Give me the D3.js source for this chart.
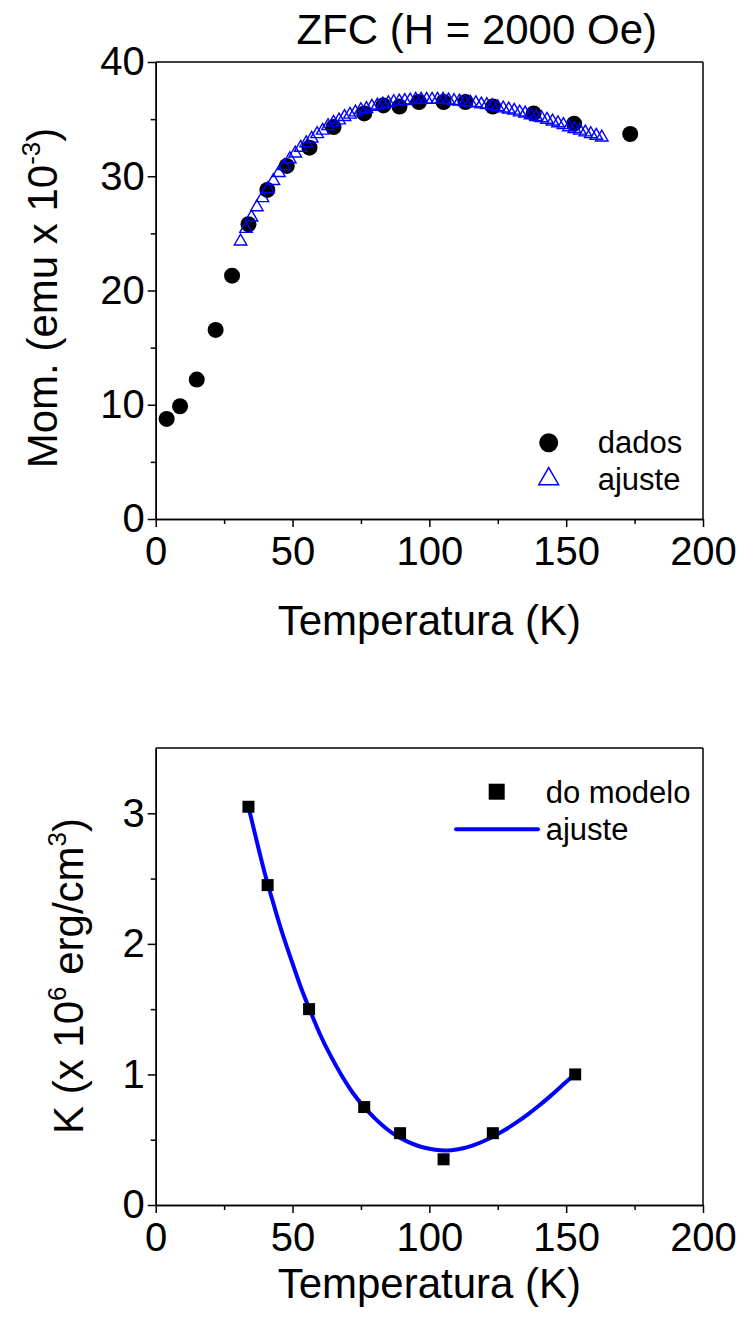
<!DOCTYPE html>
<html>
<head>
<meta charset="utf-8">
<script src="https://cdn.jsdelivr.net/npm/d3@7"></script>
<style>
  html, body { margin: 0; padding: 0; background: #fff; }
  svg { display: block; }
  text { font-family: Arial, "Liberation Sans", sans-serif; fill: #000; }
</style>
</head>
<body>
<svg id="chart" width="743" height="1329"></svg>
<script>
// ---------- DATA ----------
// Top plot: ZFC magnetization
const dadosT = [4.0, 8.9, 15.0, 21.9, 27.9, 33.9, 40.8, 47.9, 56.2, 65.0, 76.2, 83.2, 89.1, 96.2, 105.2, 113.2, 123.2, 138.1, 152.9, 173.4];
const dadosM = [8.76, 9.87, 12.2, 16.55, 21.3, 25.8, 28.8, 30.9, 32.5, 34.3, 35.5, 36.2, 36.1, 36.5, 36.5, 36.5, 36.1, 35.5, 34.6, 33.7];

const ajusteT = [31, 33, 35, 37, 39, 41, 43, 45, 47, 49, 51, 53, 55, 57, 59, 61, 63, 65, 67, 69,
                 71, 73, 75, 77, 79, 81, 83, 85, 87, 89, 91, 93, 95, 97, 99, 101, 103, 105, 107, 109,
                 111, 113, 115, 117, 119, 121, 123, 125, 127, 129, 131, 133, 135, 137, 139, 141, 143, 145, 147, 149,
                 151, 153, 155, 157, 159, 161, 163];
const ajusteM = [24.3, 25.4, 26.4, 27.3, 28.1, 28.9, 29.6, 30.3, 30.9, 31.5, 32.0, 32.5, 32.9, 33.3, 33.7, 34.0, 34.4, 34.7, 34.9, 35.2,
                 35.4, 35.6, 35.8, 35.9, 36.1, 36.2, 36.3, 36.4, 36.5, 36.55, 36.6, 36.65, 36.7, 36.7, 36.7, 36.7, 36.7, 36.7, 36.65, 36.6,
                 36.55, 36.5, 36.45, 36.4, 36.3, 36.25, 36.15, 36.05, 35.95, 35.85, 35.75, 35.6, 35.5, 35.35, 35.2, 35.1, 34.95, 34.8, 34.65, 34.5,
                 34.3, 34.15, 34.0, 33.85, 33.7, 33.55, 33.4];

// Bottom plot: anisotropy constant
const modeloT = [33.9, 40.9, 56.05, 76.2, 89.3, 105.2, 123.2, 153.3];
const modeloK = [3.05, 2.45, 1.50, 0.75, 0.55, 0.35, 0.55, 1.00];

const fitT = [34, 37, 40, 43, 46, 50, 53, 56, 60, 64, 68, 72, 76, 80, 84, 88, 92, 96, 100, 104,
              108, 112, 116, 120, 124, 128, 132, 136, 140, 144, 148, 153];
const fitK = [3.04, 2.78, 2.53, 2.31, 2.10, 1.85, 1.67, 1.51, 1.31, 1.14, 0.99, 0.86, 0.755, 0.665, 0.59, 0.53, 0.485, 0.452, 0.431, 0.419,
              0.42, 0.433, 0.457, 0.49, 0.532, 0.58, 0.634, 0.694, 0.76, 0.83, 0.905, 1.00];

// Ticks
const xTicks = [0, 50, 100, 150, 200];
const xMinor = [25, 75, 125, 175];
const topYTicks = [0, 10, 20, 30, 40];
const topYMinor = [5, 15, 25, 35];
const botYTicks = [0, 1, 2, 3];
const botYMinor = [0.5, 1.5, 2.5];

// Texts
const titleText = "ZFC (H = 2000 Oe)";
const xTitle = "Temperatura (K)";

// ---------- DRAW ----------
const svg = d3.select("#chart");
const BLUE = "#0000ff";
const FONT = 'Arial, "Liberation Sans", sans-serif';
const leftX = 155.7, rightX = 703;

function drawPanel(cfg) {
  const x = d3.scaleLinear().domain([0, 200]).range([leftX, rightX]);
  const y = d3.scaleLinear().domain(cfg.yDomain).range([cfg.bottom, cfg.top]);
  const g = svg.append("g");
  const fmt = d3.format("~g");

  g.append("line").attr("x1", leftX).attr("x2", rightX).attr("y1", cfg.top).attr("y2", cfg.top)
    .attr("stroke", "#000").attr("stroke-width", 1.5);
  g.append("line").attr("x1", rightX).attr("x2", rightX).attr("y1", cfg.top).attr("y2", cfg.bottom)
    .attr("stroke", "#000").attr("stroke-width", 1.5);

  g.append("g").attr("transform", `translate(0,${cfg.bottom})`)
    .call(d3.axisBottom(x).tickValues(xTicks).tickFormat(fmt).tickSize(8).tickPadding(10).tickSizeOuter(0));
  g.append("g").attr("transform", `translate(0,${cfg.bottom})`)
    .call(d3.axisBottom(x).tickValues(xMinor).tickSize(5).tickFormat("").tickSizeOuter(0));
  g.append("g").attr("transform", `translate(${leftX},0)`)
    .call(d3.axisLeft(y).tickValues(cfg.yTicks).tickFormat(fmt).tickSize(8).tickPadding(3).tickSizeOuter(0));
  g.append("g").attr("transform", `translate(${leftX},0)`)
    .call(d3.axisLeft(y).tickValues(cfg.yMinor).tickSize(5).tickFormat("").tickSizeOuter(0));

  g.selectAll(".domain").attr("stroke", "#000").attr("stroke-width", 1.5);
  g.selectAll(".tick line").attr("stroke", "#000").attr("stroke-width", 1.5);
  g.selectAll(".tick text").attr("font-size", 40).attr("font-family", FONT).attr("fill", "#000");

  g.append("text").attr("x", (leftX + rightX) / 2).attr("y", cfg.xTitleY)
    .attr("text-anchor", "middle").attr("font-size", 42).text(xTitle);

  return { x, y, g };
}

// ----- Top panel -----
const topP = drawPanel({ top: 62, bottom: 519, yDomain: [0, 40], yTicks: topYTicks, yMinor: topYMinor, xTitleY: 635 });

svg.append("text").attr("x", 476.7).attr("y", 44).attr("text-anchor", "middle")
  .attr("font-size", 42).text(titleText);

{
  const t = svg.append("text").attr("transform", "translate(57,298) rotate(-90)")
    .attr("text-anchor", "middle").attr("font-size", 42);
  t.append("tspan").text("Mom. (emu x 10");
  t.append("tspan").attr("font-size", 26).attr("dy", -17).text("-3");
  t.append("tspan").attr("dy", 17).text(")");
}

const dados = dadosT.map((t, i) => ({ t, m: dadosM[i] }));
topP.g.append("g").selectAll("circle").data(dados).join("circle")
  .attr("cx", d => topP.x(d.t)).attr("cy", d => topP.y(d.m)).attr("r", 8).attr("fill", "#000");

const tri = d3.symbol().type(d3.symbolTriangle).size(68);
const ajuste = ajusteT.map((t, i) => ({ t, m: ajusteM[i] }));
topP.g.append("g").selectAll("path").data(ajuste).join("path")
  .attr("d", tri)
  .attr("transform", d => `translate(${topP.x(d.t)},${topP.y(d.m)})`)
  .attr("fill", "none").attr("stroke", BLUE).attr("stroke-width", 1.4);

svg.append("circle").attr("cx", 548.7).attr("cy", 442.7).attr("r", 9.5).attr("fill", "#000");
svg.append("text").attr("x", 597.7).attr("y", 453).attr("font-size", 31).text("dados");
svg.append("path").attr("d", d3.symbol().type(d3.symbolTriangle).size(170))
  .attr("transform", "translate(548.7,479)").attr("fill", "none").attr("stroke", BLUE).attr("stroke-width", 1.5);
svg.append("text").attr("x", 597.7).attr("y", 490).attr("font-size", 31).text("ajuste");

// ----- Bottom panel -----
const botP = drawPanel({ top: 748, bottom: 1205, yDomain: [0, 3.5], yTicks: botYTicks, yMinor: botYMinor, xTitleY: 1298 });

{
  const t = svg.append("text").attr("transform", "translate(83,976) rotate(-90)")
    .attr("text-anchor", "middle").attr("font-size", 42);
  t.append("tspan").text("K (x 10");
  t.append("tspan").attr("font-size", 26).attr("dy", -17).text("6");
  t.append("tspan").attr("dy", 17).text(" erg/cm");
  t.append("tspan").attr("font-size", 26).attr("dy", -17).text("3");
  t.append("tspan").attr("dy", 17).text(")");
}

const fit = fitT.map((t, i) => ({ t, k: fitK[i] }));
botP.g.append("path").datum(fit)
  .attr("d", d3.line().x(d => botP.x(d.t)).y(d => botP.y(d.k)).curve(d3.curveNatural))
  .attr("fill", "none").attr("stroke", BLUE).attr("stroke-width", 4).attr("stroke-linecap", "round");

const modelo = modeloT.map((t, i) => ({ t, k: modeloK[i] }));
botP.g.append("g").selectAll("rect").data(modelo).join("rect")
  .attr("x", d => botP.x(d.t) - 6).attr("y", d => botP.y(d.k) - 6)
  .attr("width", 12).attr("height", 12).attr("fill", "#000");

svg.append("rect").attr("x", 496.7 - 8).attr("y", 791.7 - 8).attr("width", 16).attr("height", 16).attr("fill", "#000");
svg.append("text").attr("x", 545.7).attr("y", 803).attr("font-size", 31).text("do modelo");
svg.append("line").attr("x1", 456).attr("x2", 538).attr("y1", 829.3).attr("y2", 829.3)
  .attr("stroke", BLUE).attr("stroke-width", 4).attr("stroke-linecap", "round");
svg.append("text").attr("x", 545.7).attr("y", 840).attr("font-size", 31).text("ajuste");
</script>
</body>
</html>
